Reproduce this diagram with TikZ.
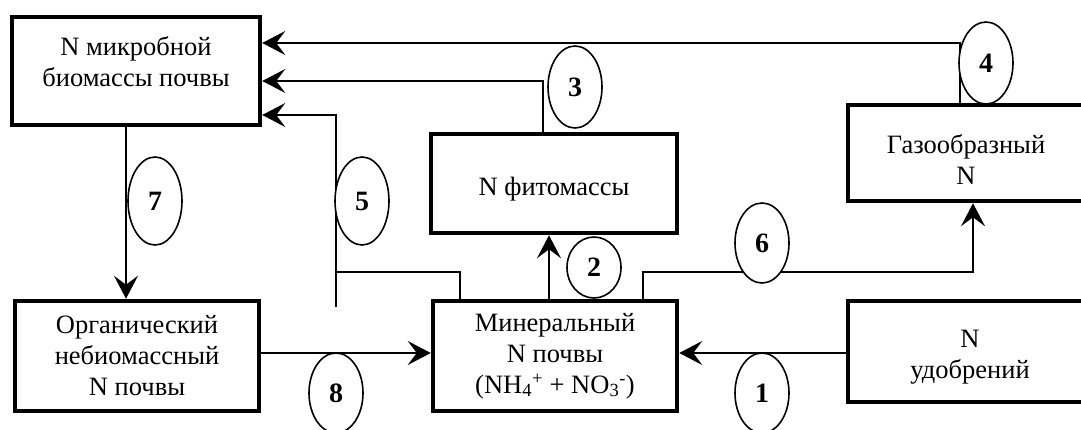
\documentclass[tikz,border=0pt]{standalone}
\usepackage{fontspec}
\setmainfont{Liberation Serif}
\usetikzlibrary{arrows.meta,shapes.geometric}
\tikzset{
  box/.style={draw, line width=4.5pt, rectangle, inner sep=0pt},
  txt/.style={align=center, font=\fontsize{26.5}{31}\selectfont, inner sep=0pt},
  conn/.style={line width=2.2pt},
  arr/.style={conn, -{Stealth[length=23pt, width=24pt, inset=9pt]}},
  num/.style={draw, ellipse, line width=1.6pt, inner sep=0pt,
    minimum width=54pt, font=\fontsize{28}{30}\selectfont\bfseries, fill=white},
}
\begin{document}
\begin{tikzpicture}[x=1pt, y=-1pt]
\useasboundingbox (0,0) rectangle (1081,429);
\clip (0,0) rectangle (1081,429);
% boxes
\node[box, minimum width=248pt, minimum height=108pt] (micro) at (136,71) {};
\node[txt] (microT) at (136,62) {N микробной\\биомассы почвы};
\node[box, minimum width=246pt, minimum height=99pt] (phyto) at (554,183.5) {};
\node[txt] (phytoT) at (554,189) {N фитомассы};
\node[box, minimum width=247pt, minimum height=96pt] (gas) at (971.5,153) {};
\node[txt] (gasT) at (966,160) {Газообразный\\N};
\node[box, minimum width=244pt, minimum height=110pt] (org) at (137,356) {};
\node[txt] (orgT) at (137,356) {Органический\\небиомассный\\N почвы};
\node[box, minimum width=244pt, minimum height=110pt] (min) at (555,356) {};
\node[txt] (minT) at (555,356) {Минеральный\\N почвы\\(NH\textsubscript{4}\textsuperscript{+} + NO\textsubscript{3}\textsuperscript{-})};
\node[box, minimum width=247pt, minimum height=101pt] (fert) at (971.5,351.5) {};
\node[txt] (fertT) at (970,357) {N\\удобрений};
% route points
\coordinate (p4) at (960,43);
\coordinate (p3) at (543,81);
\coordinate (p5) at (336,115);
\coordinate (p5b) at (336,307);
\coordinate (p5h) at (460,272);
\coordinate (p7) at (126,200);
\coordinate (p2) at (549,260);
\coordinate (p6a) at (643,272);
\coordinate (p6b) at (973,272);
\coordinate (p8) at (340,353);
\coordinate (p1) at (760,353);
% connectors
\draw[arr] (gas.north -| p4) -- (p4) -- (micro.east |- p4);
\draw[arr] (phyto.north -| p3) -- (p3) -- (micro.east |- p3);
\draw[arr] (p5b) -- (p5) -- (micro.east |- p5);
\draw[conn] (min.north -| p5h) -- (p5h) -- (p5h -| p5);
\draw[arr] (micro.south -| p7) -- (org.north -| p7);
\draw[arr] (min.north -| p2) -- (phyto.south -| p2);
\draw[arr] (min.north -| p6a) -- (p6a) -- (p6b) -- (gas.south -| p6b);
\draw[arr] (org.east |- p8) -- (min.west |- p8);
\draw[arr] (fert.west |- p1) -- (min.east |- p1);
% number ellipses
\node[num, minimum height=82pt] (n4) at (986,63) {4};
\node[num, minimum height=82pt] (n3) at (575,87) {3};
\node[num, minimum height=88pt] (n5) at (362,201) {5};
\node[num, minimum height=88pt] (n7) at (155,201) {7};
\node[num, minimum height=61pt] (n2) at (594,267.5) {2};
\node[num, minimum height=80pt] (n6) at (762,243) {6};
\node[num, minimum height=80pt] (n8) at (336,393) {8};
\node[num, minimum height=80pt] (n1) at (762,393) {1};
\end{tikzpicture}
\end{document}
